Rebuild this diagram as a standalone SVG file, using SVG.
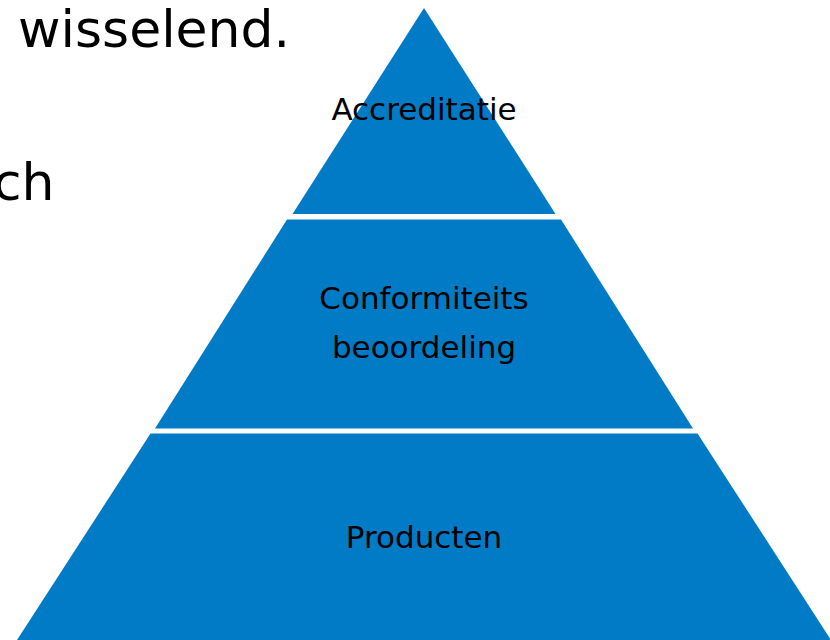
<svg xmlns="http://www.w3.org/2000/svg" width="830" height="640" viewBox="0 0 830 640">
<style>
.tier{fill:#027BC7;}
.lbl{font-family:"DejaVu Sans","Verdana",sans-serif;font-size:31px;fill:#000;text-anchor:middle;}
.body{font-family:"DejaVu Sans","Verdana",sans-serif;font-size:52px;fill:#000;}
</style>
<rect x="0" y="0" width="830" height="640" fill="#fff"/>
<text class="body" x="18" y="46.5">wisselend.</text>
<text class="body" x="-7" y="200">ch</text>
<g id="tier-top">
<polygon class="tier" points="424,8 555.5,214 292.5,214"/>
<text class="lbl" x="424" y="120">Accreditatie</text>
</g>
<g id="tier-middle">
<polygon class="tier" points="287,219.5 561,219.5 693,428.5 155,428.5"/>
<text class="lbl" x="424" y="308.5">Conformiteits</text>
<text class="lbl" x="424" y="358">beoordeling</text>
</g>
<g id="tier-bottom">
<polygon class="tier" points="150.5,433.5 697.5,433.5 831,640 17,640"/>
<text class="lbl" x="424" y="548">Producten</text>
</g>
<g id="connectors"></g>
</svg>
